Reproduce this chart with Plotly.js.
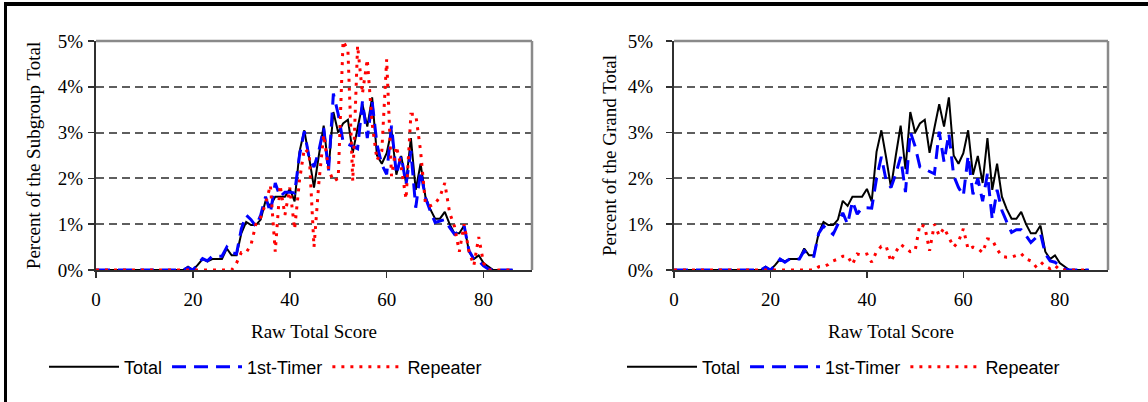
<!DOCTYPE html>
<html>
<head>
<meta charset="utf-8">
<script src="https://cdn.plot.ly/plotly-3.0.1.min.js"></script>
<style>
html,body{margin:0;padding:0;background:#fff;}
#wrap{position:relative;width:1148px;height:402px;overflow:hidden;}
#chart{position:absolute;left:0;top:0;width:1148px;height:402px;}
#frame{position:absolute;left:4px;top:2px;width:1160px;height:420px;border-top:4px solid #000;border-left:3px solid #000;pointer-events:none;}
</style>
</head>
<body>
<div id="wrap"><div id="chart"></div><div id="frame"></div></div>
<script>
// Raw total score (x)
const scores = [];
for (let s = 0; s <= 86; s++) scores.push(s);

// Percent of the subgroup total (left panel), index = score 0..86
const subTotal = [
 0,0,0,0,0,0,0,0,0,0, 0,0,0,0,0,0,0,0,0,0.07,
 0,0.11,0.24,0.19,0.24,0.24,0.24,0.47,0.32,0.32,
 0.8,1.05,0.98,0.98,1.1,1.51,1.4,1.6,1.6,1.6,
 1.77,1.5,2.58,3.05,2.45,1.8,2.5,3.15,2.2,3.45,
 3.0,3.2,3.28,2.56,3.1,3.62,3.13,3.77,2.5,2.32,
 2.55,3.05,2.08,2.49,1.9,2.88,1.75,2.32,1.6,1.33,
 1.12,1.12,1.27,1.0,0.8,0.8,0.97,0.4,0.24,0.32,
 0.15,0.07,0,0,0,0,0
];
const subFirst = [
 0,0,0,0,0,0,0,0,0,0, 0,0,0,0,0,0,0,0,0,0.05,
 0,0.12,0.25,0.2,0.3,0.3,0.3,0.5,0.38,0.35,
 0.9,1.2,1.1,0.95,1.2,1.6,1.25,1.9,1.6,1.7,
 1.7,1.68,2.5,3.03,2.45,2.25,2.6,3.1,2.16,3.85,
 3.4,2.8,2.75,2.7,2.65,3.68,2.88,3.68,2.74,2.3,
 2.09,3.15,2.09,2.49,1.87,2.6,1.36,2.16,1.58,1.29,
 1.04,1.07,1.1,0.93,0.78,0.85,0.96,0.42,0.24,0.2,
 0.09,0.02,0,0,0,0,0
];
const subRepeat = [
 0,0,0,0,0,0,0,0,0,0, 0,0,0,0,0,0,0,0,0,0,
 0,0,0,0,0,0,0,0,0,0.15,
 0.38,0.38,0.55,1.0,1.15,1.45,1.85,0.4,1.85,1.2,
 1.8,0.89,1.95,2.65,2.55,0.5,1.9,2.95,2.2,1.94,
 2.0,5.0,4.8,1.94,4.9,3.85,4.6,3.2,2.4,2.6,
 4.6,2.05,2.7,2.25,1.55,3.4,3.4,2.6,1.45,1.4,
 1.45,1.6,1.9,1.25,0.95,0.4,1.0,0.4,0.1,0.72,
 0.15,0,0,0,0,0,0
];
// Percent of the grand total (right panel)
const grandTotal = subTotal.slice();
const grandFirst = [
 0,0,0,0,0,0,0,0,0,0, 0,0,0,0,0,0,0,0,0,0.06,
 0,0.1,0.24,0.17,0.24,0.24,0.24,0.42,0.3,0.3,
 0.8,0.96,0.88,0.78,1.0,1.25,1.0,1.5,1.22,1.36,
 1.36,1.35,2.0,2.47,1.95,1.8,2.1,2.47,1.7,3.02,
 2.7,2.25,2.2,2.15,2.1,3.02,2.36,2.98,2.06,1.8,
 1.62,2.5,1.65,2.0,1.5,2.1,1.1,1.75,1.3,1.05,
 0.82,0.88,0.88,0.75,0.6,0.7,0.8,0.35,0.2,0.17,
 0.08,0.02,0,0,0,0,0
];
const grandRepeat = [
 0,0,0,0,0,0,0,0,0,0, 0,0,0,0,0,0,0,0,0,0,
 0,0,0,0,0,0,0,0,0,0,
 0.07,0.07,0.12,0.2,0.24,0.3,0.3,0.12,0.35,0.32,
 0.35,0.17,0.4,0.52,0.52,0.18,0.4,0.56,0.48,0.4,
 0.42,1.0,0.95,0.42,1.0,0.75,0.92,0.7,0.5,0.62,
 0.9,0.45,0.5,0.47,0.38,0.68,0.66,0.45,0.3,0.28,
 0.28,0.32,0.36,0.24,0.2,0.08,0.18,0.08,0.03,0.1,
 0,0,0,0,0,0,0
];
const seriesNames = ['Total', '1st-Timer', 'Repeater'];
const yTitles = ['Percent of the Subgroup Total', 'Percent of the Grand Total'];
const xTitle = 'Raw Total Score';

const styles = [
  {color:'#000000', width:2, dash:'solid'},
  {color:'#0000ff', width:3, dash:'14px,8px'},
  {color:'#ff0000', width:3, dash:'3px,6px'}
];
const leftData = [subTotal, subFirst, subRepeat];
const rightData = [grandTotal, grandFirst, grandRepeat];
const traces = [];
leftData.forEach((ys, i) => traces.push({
  x: scores, y: ys, type:'scatter', mode:'lines', name: seriesNames[i],
  line: {color: styles[i].color, width: styles[i].width, dash: styles[i].dash},
  xaxis:'x', yaxis:'y', legend:'legend', hoverinfo:'skip'
}));
rightData.forEach((ys, i) => traces.push({
  x: scores, y: ys, type:'scatter', mode:'lines', name: seriesNames[i],
  line: {color: styles[i].color, width: styles[i].width, dash: styles[i].dash},
  xaxis:'x2', yaxis:'y2', legend:'legend2', hoverinfo:'skip'
}));

const W = 1148, H = 402;
const serif = 'Liberation Serif, Times New Roman, serif';
const sans = 'Liberation Sans, Arial, sans-serif';
function xax(dom, anchor){
  return {domain: dom, anchor: anchor, range:[0,90], dtick:20, tick0:0,
    showgrid:false, zeroline:false, showline:true, linecolor:'#303030', linewidth:2,
    ticks:'outside', ticklen:6, tickwidth:1.5, tickcolor:'#303030',
    tickfont:{family:serif, size:19, color:'#000'}, ticklabelstandoff:5,
    title:{text:xTitle, font:{family:serif, size:19, color:'#000'}, standoff:16},
    automargin:false, fixedrange:true};
}
function yax(dom, anchor, t, labStand, titleStand){
  return {domain: dom, anchor: anchor, range:[0,5], dtick:1, tick0:0, ticksuffix:'%',
    showgrid:true, gridcolor:'#5e5e5e', gridwidth:2, griddash:'8px,5px',
    zeroline:false, showline:true, linecolor:'#303030', linewidth:2,
    ticks:'outside', ticklen:6, tickwidth:1.5, tickcolor:'#303030',
    tickfont:{family:serif, size:19, color:'#000'}, ticklabelstandoff:labStand,
    title:{text:t, font:{family:serif, size:19, color:'#000'}, standoff:titleStand},
    automargin:false, fixedrange:true};
}
const yDom = [(H-270)/H, (H-41)/H];
const layout = {
  width: W, height: H, margin:{l:0,r:0,t:0,b:0},
  paper_bgcolor:'#ffffff', plot_bgcolor:'#ffffff', showlegend:true,
  xaxis: xax([96/W, 532/W], 'y'),
  yaxis: yax(yDom, 'x', yTitles[0], 1, 12),
  xaxis2: xax([674/W, 1108/W], 'y2'),
  yaxis2: yax(yDom, 'x2', yTitles[1], 9, 6),
  legend: {orientation:'h', x:44/W, y:(H-367)/H, xanchor:'left', yanchor:'middle',
    font:{family:sans, size:18, color:'#000'}, itemwidth:70, bgcolor:'rgba(0,0,0,0)', tracegroupgap:0},
  legend2: {orientation:'h', x:622/W, y:(H-367)/H, xanchor:'left', yanchor:'middle',
    font:{family:sans, size:18, color:'#000'}, itemwidth:70, bgcolor:'rgba(0,0,0,0)', tracegroupgap:0},
  shapes: [
    {type:'line', xref:'x domain', yref:'y domain', x0:0, x1:1, y0:1, y1:1, line:{color:'#8a8a8a', width:2.5}},
    {type:'line', xref:'x domain', yref:'y domain', x0:1, x1:1, y0:0, y1:1, line:{color:'#8a8a8a', width:2.5}},
    {type:'line', xref:'x2 domain', yref:'y2 domain', x0:0, x1:1, y0:1, y1:1, line:{color:'#8a8a8a', width:2.5}},
    {type:'line', xref:'x2 domain', yref:'y2 domain', x0:1, x1:1, y0:0, y1:1, line:{color:'#8a8a8a', width:2.5}}
  ]
};
Plotly.newPlot('chart', traces, layout, {displayModeBar:false, staticPlot:true});
</script>
</body>
</html>
